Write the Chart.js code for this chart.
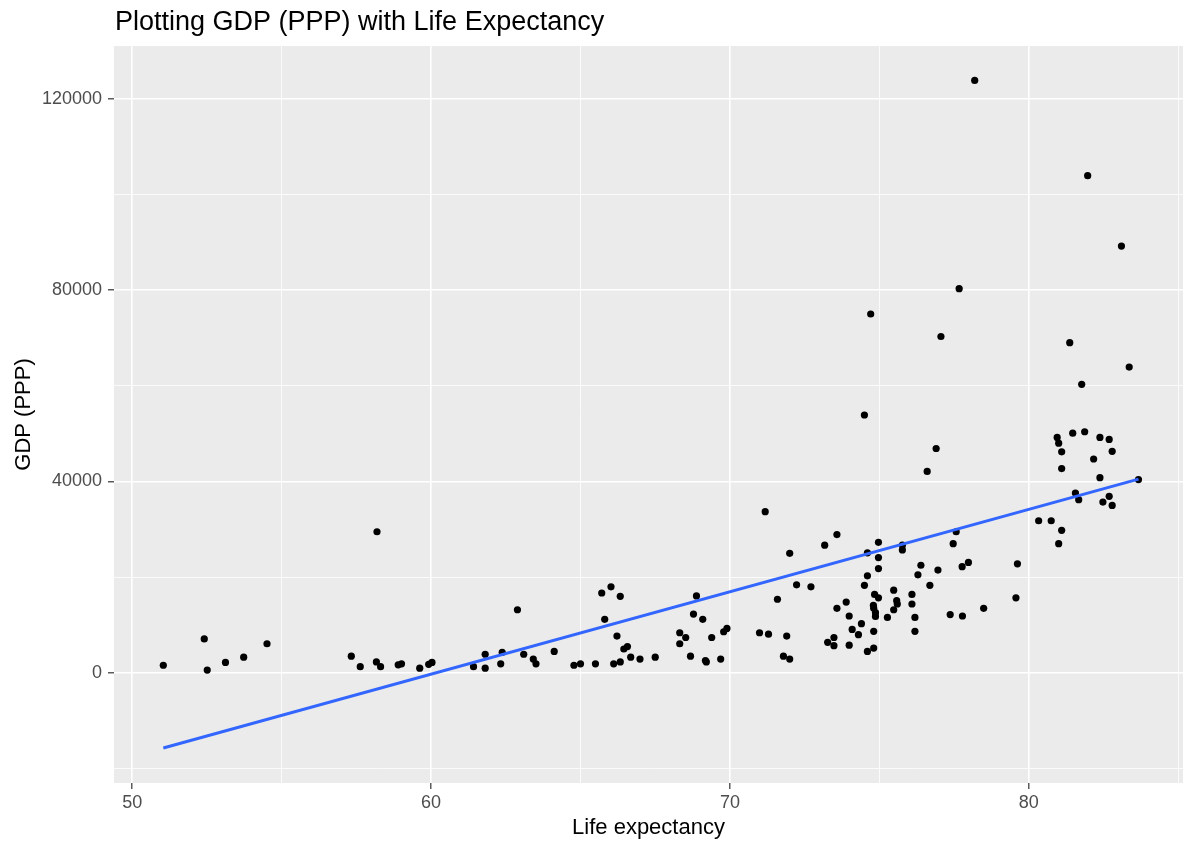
<!DOCTYPE html>
<html>
<head>
<meta charset="utf-8">
<script src="https://cdn.jsdelivr.net/npm/chart.js@4/dist/chart.umd.min.js"></script>
<style>
  html, body { margin: 0; padding: 0; background: #ffffff; }
  #wrap { width: 1187px; height: 841px; }
</style>
</head>
<body>
<div id="wrap"><canvas id="scatterplot" width="1187" height="841"></canvas></div>
<script>
const chartTitle = 'Plotting GDP (PPP) with Life Expectancy';
const xTitle = 'Life expectancy';
const yTitle = 'GDP (PPP)';

// life expectancy / gdp pairs
const lifeExp = [
  51.04, 52.41, 52.51, 53.12, 53.73, 54.51, 58.19, 57.33, 57.63, 58.17,
  58.31, 58.90, 59.01, 59.62, 59.92, 60.03, 61.42, 61.81, 61.81, 62.33,
  62.38, 62.89, 63.10, 63.42, 63.51, 64.12, 64.78, 65.00, 65.50, 65.71,
  66.02, 66.33, 65.81, 66.22, 66.11, 66.33, 66.45, 66.57, 66.68, 66.99,
  67.50, 68.32, 68.52, 68.32, 68.78, 68.88, 69.09, 68.68, 69.18, 69.21,
  69.39, 69.79, 69.90, 69.69, 70.99, 71.29, 71.90, 71.59, 72.00, 71.79,
  72.00, 72.23, 71.18, 72.71, 73.17, 73.58, 74.50, 76.90, 76.60, 74.97,
  74.60, 74.97, 74.97, 74.60, 74.50, 75.77, 75.77, 77.57, 77.47, 76.39,
  76.29, 76.96, 76.69, 77.77, 77.98, 73.58, 73.89, 73.99, 74.09, 74.30,
  74.40, 73.27, 73.48, 73.48, 73.99, 74.60, 74.81, 74.81, 74.80, 74.84,
  74.97, 74.81, 74.87, 74.87, 75.48, 75.58, 75.60, 75.48, 75.27, 76.09,
  76.09, 76.19, 76.19, 77.37, 77.78, 78.49, 78.19, 77.67, 74.71, 77.06,
  81.97, 83.10, 81.37, 83.36, 81.77, 80.95, 81.00, 81.10, 81.47, 81.87,
  82.38, 82.69, 82.79, 82.17, 81.10, 82.38, 83.67, 81.56, 81.67, 82.69,
  82.48, 82.79, 80.33, 80.75, 81.10, 81.00, 79.62, 79.57
];
const gdpPPP = [
  1600, 7100, 600, 2200, 3300, 6100, 29500, 3500, 1300, 2300,
  1300, 1700, 1900, 1000, 1800, 2200, 1300, 3900, 1000, 1900,
  4300, 13200, 3900, 2900, 1900, 4500, 1600, 1900, 1900, 16700,
  18000, 16000, 11200, 7700, 1900, 2300, 5000, 5500, 3300, 2900,
  3300, 8400, 7400, 6100, 12300, 16100, 11200, 3500, 2600, 2300,
  7400, 8600, 9300, 2900, 8400, 8100, 7700, 15400, 25000, 3500,
  2900, 18400, 33700, 18000, 26700, 28900, 53900, 46900, 42100, 27300,
  25100, 24100, 21800, 20300, 18300, 26700, 25700, 29500, 27000, 22500,
  20500, 21500, 18300, 22200, 23100, 13500, 14800, 11900, 9100, 8000,
  10300, 6400, 7400, 5700, 5800, 4500, 5200, 8700, 14100, 16400,
  15700, 13500, 12600, 11800, 17300, 15100, 14400, 13200, 11600, 16400,
  14400, 11600, 8700, 12200, 11900, 13500, 123800, 80300, 75000, 70300,
  103900, 89200, 69000, 63900, 60300, 49200, 48000, 46200, 50100, 50400,
  49200, 48800, 46300, 44700, 42700, 40800, 40400, 37600, 36200, 36900,
  35700, 35000, 31800, 31800, 29800, 27000, 22800, 15700
];

// fitted line end points (as drawn in the picture)
const fitX = [51.04, 83.67];
const fitY = [-15700, 40500];

const xTicks = [50, 55, 60, 65, 70, 75, 80, 85];
const yTicks = [-20000, 0, 20000, 40000, 60000, 80000, 100000, 120000];
const xMajor = [50, 60, 70, 80];
const yMajor = [0, 40000, 80000, 120000];

const points = lifeExp.map((x, i) => ({ x: x, y: gdpPPP[i] }));
const fitLine = fitX.map((x, i) => ({ x: x, y: fitY[i] }));

const FONT = "'Liberation Sans', Arial, sans-serif";

const panelBackground = {
    id: 'panelBackground',
    beforeDraw(chart) {
        const { ctx, chartArea } = chart;
        ctx.save();
        ctx.fillStyle = '#EBEBEB';
        ctx.fillRect(chartArea.left, chartArea.top, chartArea.right - chartArea.left, chartArea.bottom - chartArea.top);
        ctx.restore();
    },
    afterDraw(chart) {
        const { ctx, chartArea } = chart;
        ctx.save();
        ctx.fillStyle = '#000000';
        ctx.font = '27px ' + FONT;
        ctx.textBaseline = 'alphabetic';
        ctx.textAlign = 'left';
        ctx.fillText(chartTitle, chartArea.left + 1, 30);
        ctx.restore();
    }
};

function gridFor(majors) {
    return {
        color: '#FFFFFF',
        lineWidth: (c) => (c.tick && majors.includes(c.tick.value)) ? 1.6 : 0.8,
        drawTicks: true,
        tickLength: 6,
        tickWidth: 1.2,
        tickColor: (c) => (c.tick && majors.includes(c.tick.value)) ? '#333333' : 'rgba(0,0,0,0)'
    };
}

const ctx = document.getElementById('scatterplot').getContext('2d');
const chart = new Chart(ctx, {
    type: 'scatter',
    data: {
        datasets: [
            {
                type: 'line',
                label: 'fit',
                data: fitLine,
                borderColor: '#3366FF',
                borderWidth: 3,
                pointRadius: 0,
                fill: false,
                order: 0
            },
            {
                label: 'countries',
                data: points,
                backgroundColor: '#000000',
                borderColor: '#000000',
                pointRadius: 3.6,
                borderWidth: 0,
                order: 1
            }
        ]
    },
    options: {
        responsive: false,
        animation: false,
        layout: { padding: { left: 0, right: 0, top: 46, bottom: 0 } },
        plugins: {
            legend: { display: false },
            title: { display: false },
            tooltip: { enabled: false }
        },
        scales: {
            x: {
                type: 'linear',
                min: 49.39,
                max: 85.16,
                afterBuildTicks: (scale) => { scale.ticks = xTicks.map(v => ({ value: v })); },
                afterFit: (scale) => { scale.height = 58; },
                grid: gridFor(xMajor),
                border: { display: false },
                ticks: {
                    autoSkip: false,
                    maxRotation: 0,
                    padding: 3,
                    color: '#4D4D4D',
                    font: { family: FONT, size: 18 },
                    callback: (v) => xMajor.includes(v) ? String(v) : ''
                },
                title: {
                    display: true,
                    text: xTitle,
                    color: '#000000',
                    font: { family: FONT, size: 22 },
                    padding: { top: 0, bottom: 0 }
                }
            },
            y: {
                type: 'linear',
                min: -23000,
                max: 131000,
                afterBuildTicks: (scale) => { scale.ticks = yTicks.map(v => ({ value: v })); },
                afterFit: (scale) => { scale.width = 114; },
                grid: gridFor(yMajor),
                border: { display: false },
                ticks: {
                    autoSkip: false,
                    padding: 6,
                    color: '#4D4D4D',
                    font: { family: FONT, size: 18 },
                    callback: (v) => yMajor.includes(v) ? String(v) : ''
                },
                title: {
                    display: true,
                    text: yTitle,
                    color: '#000000',
                    font: { family: FONT, size: 22 },
                    padding: { top: 11, bottom: 0 }
                }
            }
        }
    },
    plugins: [panelBackground]
});
</script>
</body>
</html>
